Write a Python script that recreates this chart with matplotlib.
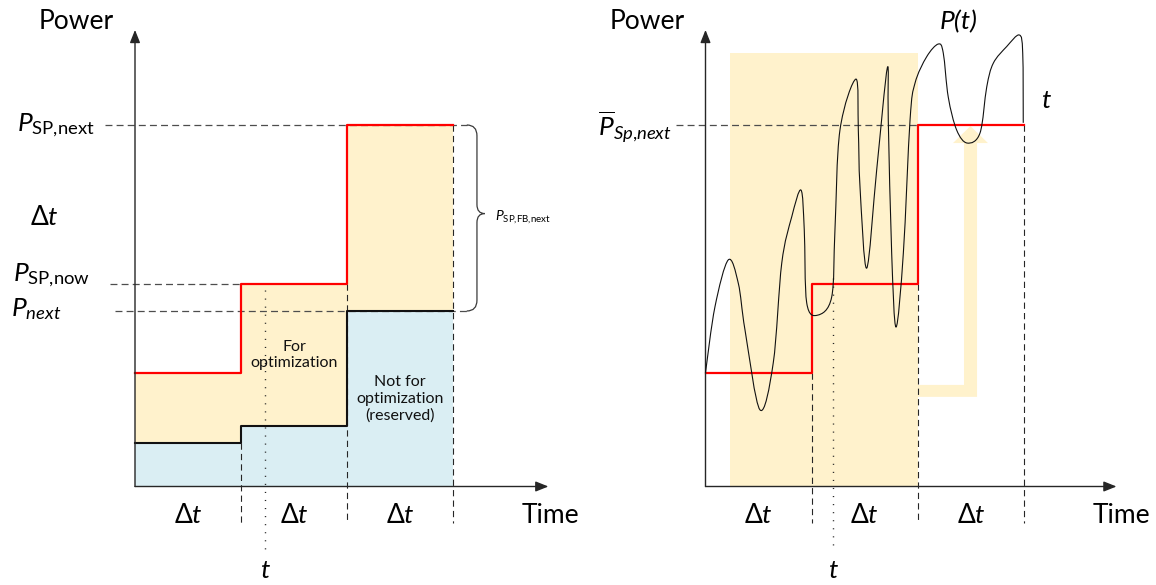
import numpy as np
import matplotlib
matplotlib.use("Agg")
import matplotlib.pyplot as plt
from matplotlib.path import Path
from matplotlib.patches import PathPatch, Polygon, Rectangle

plt.rcParams['font.family'] = ['Lato', 'DejaVu Sans']
plt.rcParams['mathtext.fontset'] = 'custom'
plt.rcParams['mathtext.rm'] = 'Lato'
plt.rcParams['mathtext.it'] = 'Lato:italic'
plt.rcParams['mathtext.fallback'] = 'stixsans'
plt.rcParams['lines.scale_dashes'] = False

# ---------------- data ----------------
time_edges = [0, 1, 2, 3]                 # interval boundaries (units of Δt)
setpoint = [3.15, 5.60, 10.0]             # red step (P_SP) per interval
reserved = [1.20, 1.67, 4.855]            # black step (reserved power) per interval
t_now_left = 1.226                        # dotted "t" marker, left panel
t_now_right = 1.20                        # dotted "t" marker, right panel
opt_window = (0.23, 2.0, 11.99)           # yellow window right panel: t0, t1, height

# P(t) curve (t in Δt units, power units)
curve_t = [0.0, 0.089, 0.215, 0.309, 0.372, 0.513, 0.638, 0.718, 0.812, 0.899,
           0.930, 0.953, 1.056, 1.188, 1.219, 1.266, 1.417, 1.439, 1.455, 1.518,
           1.612, 1.712, 1.721, 1.753, 1.794, 1.863, 1.926, 1.973, 2.083, 2.192,
           2.239, 2.286, 2.365, 2.465, 2.585, 2.648, 2.710, 2.836, 2.955, 2.987,
           2.992]
curve_p = [3.15, 4.97, 6.27, 5.62, 4.33, 2.12, 3.42, 6.18, 7.46, 8.20,
           7.10, 5.08, 4.74, 5.24, 7.10, 9.86, 11.27, 9.86, 8.28, 6.04,
           8.76, 11.58, 10.14, 6.46, 4.41, 6.46, 10.14, 11.16, 11.89, 12.24,
           11.99, 10.77, 9.86, 9.50, 9.78, 11.05, 11.71, 12.17, 12.49, 11.99,
           10.06]

# yellow L-shaped arrow (right panel)
larrow_t = [2.0, 2.434, 2.434, 2.33, 2.495, 2.66, 2.557, 2.557, 2.0]
larrow_p = [2.81, 2.81, 9.50, 9.50, 9.97, 9.50, 9.50, 2.48, 2.48]

YELLOW = '#FFF2CC'
BLUE = '#DAEEF3'
RED = '#FF0000'
GREY = '#4D4D4D'

W, H = 1156, 585
fig = plt.figure(figsize=(W / 100, H / 100), dpi=100)


def make_panel(ox, oy, sx, sy):
    ax = fig.add_axes([0, 0, 1, 1])
    ax.set_xlim(-ox / sx, (W - ox) / sx)
    ax.set_ylim(-(H - oy) / sy, oy / sy)
    ax.axis('off')
    ax.patch.set_alpha(0)
    return ax


def axes_arrows(ax, xmax, ymax):
    kw = dict(arrowstyle='-|>,head_length=0.55,head_width=0.22', lw=1.0,
              color='#262626', shrinkA=0, shrinkB=0, mutation_scale=14)
    ax.annotate('', xy=(0, ymax), xytext=(0, 0), arrowprops=kw)
    ax.annotate('', xy=(xmax, 0), xytext=(0, 0), arrowprops=kw)


def step_xy(vals):
    return time_edges, list(vals) + [vals[-1]]


BIG = 19
# ============ LEFT PANEL ============
axL = make_panel(135, 486.5, 106, 36.15)
tx, red_y = step_xy(setpoint)
_, blk_y = step_xy(reserved)
axL.fill_between(tx, 0, blk_y, step='post', color=BLUE, lw=0, zorder=1)
axL.fill_between(tx, blk_y, red_y, step='post', color=YELLOW, lw=0, zorder=1)

# horizontal dashed guides
axL.plot([-0.283, 3.13], [setpoint[2]] * 2, color=GREY, lw=0.9, dashes=(5, 3), zorder=2)
axL.plot([-0.236, 1.0], [setpoint[1]] * 2, color=GREY, lw=0.9, dashes=(5, 3), zorder=2)
axL.plot([-0.189, 3.13], [reserved[2]] * 2, color=GREY, lw=0.9, dashes=(5, 3), zorder=2)
# vertical dashed boundaries
axL.plot([1, 1], [reserved[0], -1.01], color='#262626', lw=0.8, dashes=(4.5, 3), zorder=2)
axL.plot([2, 2], [setpoint[1], -1.01], color='#262626', lw=0.8, dashes=(4.5, 3), zorder=2)
axL.plot([3, 3], [setpoint[2], -1.01], color='#262626', lw=0.8, dashes=(4.5, 3), zorder=2)
# dotted t
axL.plot([t_now_left] * 2, [5.44, -1.76], color='#262626', lw=1.0, dashes=(0.8, 5), zorder=4)

axL.step(tx, blk_y, where='post', color='#111111', lw=1.5, zorder=3)
axL.step(tx, red_y, where='post', color=RED, lw=1.6, zorder=3)
axes_arrows(axL, 3.9, 12.63)

# brace
bx0, bx1, bx2 = 3.13, 3.226, 3.30
yt, yb, ym = setpoint[2], reserved[2], 7.55
verts = [(bx0, yt), (bx1, yt), (bx1, yt - 0.3), (bx1, ym + 0.25), (bx1, ym), (bx2, ym),
         (bx1, ym), (bx1, ym - 0.25), (bx1, yb + 0.3), (bx1, yb), (bx0, yb)]
codes = [Path.MOVETO, Path.CURVE3, Path.CURVE3, Path.LINETO, Path.CURVE3, Path.CURVE3,
         Path.CURVE3, Path.CURVE3, Path.LINETO, Path.CURVE3, Path.CURVE3]
axL.add_patch(PathPatch(Path(verts, codes), fill=False, color='#3a3a3a', lw=0.9, zorder=3))
axL.text(3.40, 7.45, r'$P_{\mathrm{SP{,}FB{,}next}}$', fontsize=10, va='center', ha='left')

axL.text(-0.557, 12.85, 'Power', fontsize=BIG, ha='center', va='center')
axL.text(-1.113, 10.0, r'$P_{\mathrm{SP{,}next}}$', fontsize=BIG, ha='left', va='center')
axL.text(-0.858, 7.43, r'$\Delta t$', fontsize=BIG, ha='center', va='center')
axL.text(-1.151, 5.85, r'$P_{\mathrm{SP{,}now}}$', fontsize=BIG, ha='left', va='center')
axL.text(-1.17, 4.92, r'$P_{next}$', fontsize=BIG, ha='left', va='center')
axL.text(1.5, 3.64, 'For\noptimization', fontsize=11.5, ha='center', va='center',
         linespacing=1.25, color='#111111', zorder=5)
axL.text(2.5, 2.42, 'Not for\noptimization\n(reserved)', fontsize=11.5, ha='center',
         va='center', linespacing=1.25, color='#111111', zorder=5)
for i in range(3):
    axL.text(i + 0.5, -0.79, r'$\Delta t$', fontsize=BIG, ha='center', va='center')
axL.text(3.92, -0.79, 'Time', fontsize=BIG, ha='center', va='center')
axL.text(t_now_left, -2.33, 't', style='italic', fontsize=BIG, ha='center', va='center')

# ============ RIGHT PANEL ============
axR = make_panel(705.5, 486.5, 106.2, 36.15)
t0, t1, hh = opt_window
axR.add_patch(Rectangle((t0, 0), t1 - t0, hh, color=YELLOW, lw=0, zorder=1))
axR.add_patch(Polygon(np.column_stack([larrow_t, larrow_p]), closed=True,
                      color=YELLOW, lw=0, zorder=1))

axR.plot([-0.278, 2.0], [setpoint[2]] * 2, color=GREY, lw=0.9, dashes=(5, 3), zorder=2)
axR.plot([1, 1], [setpoint[0], -1.0], color='#262626', lw=0.8, dashes=(4.5, 3), zorder=2)
axR.plot([2, 2], [setpoint[1], -1.0], color='#262626', lw=0.8, dashes=(4.5, 3), zorder=2)
axR.plot([3, 3], [setpoint[2], -1.0], color='#262626', lw=0.8, dashes=(4.5, 3), zorder=2)
axR.plot([t_now_right] * 2, [5.77, -1.67], color='#262626', lw=1.0, dashes=(0.8, 5), zorder=4)

axR.step(tx, red_y, where='post', color=RED, lw=1.6, zorder=3)

# smooth P(t) curve through the read points (cubic Bezier segments)
pts = np.column_stack([curve_t, curve_p])
ext = np.vstack([pts[0], pts, pts[-1]])
verts = [tuple(pts[0])]
codes = [Path.MOVETO]
for i in range(len(pts) - 1):
    p0, p1, p2, p3 = ext[i], ext[i + 1], ext[i + 2], ext[i + 3]
    c1 = p1 + (p2 - p0) / 6.0
    c2 = p2 - (p3 - p1) / 6.0
    verts += [tuple(c1), tuple(c2), tuple(p2)]
    codes += [Path.CURVE4] * 3
axR.add_patch(PathPatch(Path(verts, codes), fill=False, color='#111111', lw=0.8, zorder=4))

axes_arrows(axR, 3.87, 12.63)

axR.text(-0.55, 12.85, 'Power', fontsize=BIG, ha='center', va='center')
axR.text(2.38, 12.85, 'P(t)', style='italic', fontsize=BIG, ha='center', va='center')
axR.text(3.2, 10.69, 't', style='italic', fontsize=BIG, ha='center', va='center')
axR.text(-0.32, 9.95, r'$\overline{P}_{Sp{,}next}$', fontsize=BIG, ha='right', va='center')
for i in range(3):
    axR.text(i + 0.5, -0.79, r'$\Delta t$', fontsize=BIG, ha='center', va='center')
axR.text(3.92, -0.79, 'Time', fontsize=BIG, ha='center', va='center')
axR.text(t_now_right, -2.33, 't', style='italic', fontsize=BIG, ha='center', va='center')

fig.savefig('out.png', dpi=100)
